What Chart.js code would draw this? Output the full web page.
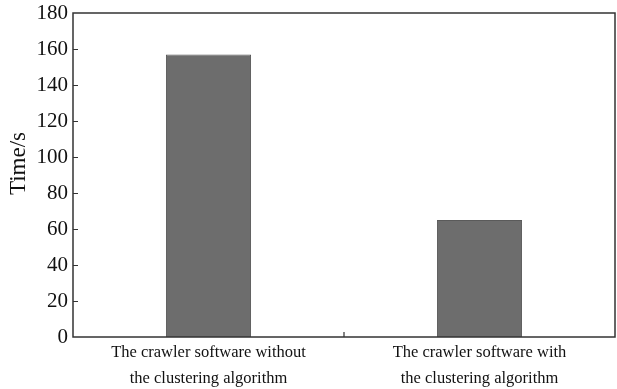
<!DOCTYPE html>
<html>
<head>
<meta charset="utf-8">
<script src="https://cdn.jsdelivr.net/npm/chart.js@4.4.0/dist/chart.umd.min.js"></script>
<style>
    html, body { margin: 0; padding: 0; background: #fff; }
    #wrap { width: 617px; height: 389px; }
</style>
</head>
<body>
<div id="wrap"><canvas id="chart"></canvas></div>
<script>
// data
const categories = [
    ['The crawler software without', 'the clustering algorithm'],
    ['The crawler software with', 'the clustering algorithm']
]
const times = [157, 65]
const yTicks = [0, 20, 40, 60, 80, 100, 120, 140, 160, 180]
const yTitle = '    Time/s'  // leading spaces nudge it up a bit, like the original

const AXIS = '#333'
const TEXT = '#111'

// frame + inward tick marks
const frame = {
    id: 'frame',
    afterDraw(chart) {
        const ctx = chart.ctx
        const a = chart.chartArea
        const x = chart.scales.x, y = chart.scales.y
        ctx.save()
        ctx.strokeStyle = AXIS
        ctx.lineWidth = 1.5
        ctx.strokeRect(a.left, a.top, a.right - a.left, a.bottom - a.top)
        ctx.lineWidth = 1.2
        ctx.beginPath()
        yTicks.forEach(v => {
            if (v === yTicks[0] || v === yTicks[yTicks.length - 1]) return
            const py = Math.round(y.getPixelForValue(v)) + .5
            ctx.moveTo(a.left, py)
            ctx.lineTo(a.left + 5, py)
        })
        // boundary between the two categories
        for (let i = 1; i < categories.length; i++) {
            const px = (x.getPixelForValue(i - 1) + x.getPixelForValue(i)) / 2
            ctx.moveTo(px, a.bottom)
            ctx.lineTo(px, a.bottom - 5)
        }
        ctx.stroke()
        ctx.restore()
    }
}

const chart = new Chart('chart', {
    type: 'bar',
    data: {
        labels: categories,
        datasets: [{
            data: times,
            backgroundColor: '#6d6d6d',
            borderColor: '#5a5a5a',
            borderWidth: 1,
            barPercentage: 0.314,
            categoryPercentage: 1
        }]
    },
    options: {
        responsive: true,
        maintainAspectRatio: false,
        animation: false,
        layout: { padding: { top: 13, right: 2, left: 0, bottom: 0 } },
        plugins: { legend: { display: false }, tooltip: { enabled: false } },
        scales: {
            x: {
                grid: { display: false, drawTicks: false },
                border: { display: false },
                ticks: {
                    color: TEXT,
                    padding: 2,
                    maxRotation: 0,
                    font: { family: 'Liberation Serif', size: 16.5, lineHeight: 1.6 }
                },
                afterFit(s) { s.height = 52 }
            },
            y: {
                min: 0,
                max: 180,
                afterBuildTicks(s) { s.ticks = yTicks.map(v => ({ value: v })) },
                grid: { display: false, drawTicks: false },
                border: { display: false },
                ticks: {
                    color: TEXT,
                    padding: 5,
                    font: { family: 'Liberation Serif', size: 21 }
                },
                title: {
                    display: true,
                    text: yTitle,
                    color: TEXT,
                    padding: { top: 5, bottom: 0 },
                    font: { family: 'Liberation Serif', size: 23 }
                },
                afterFit(s) {
                    s.width = 73
                    s.paddingTop = 0
                    s.paddingBottom = 0
                }
            }
        }
    },
    plugins: [frame]
})
console.log(JSON.stringify(chart.chartArea))
</script>
</body>
</html>
